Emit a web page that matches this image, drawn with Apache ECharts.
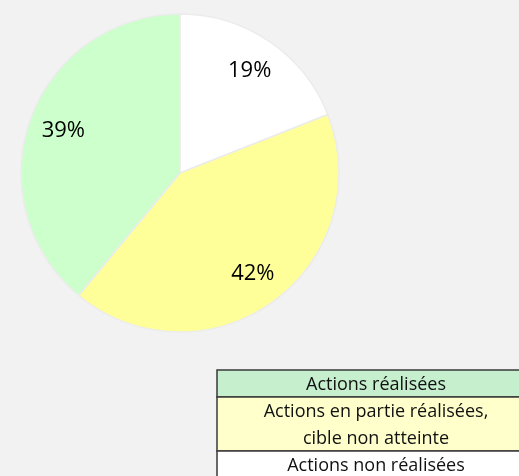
<!DOCTYPE html>
<html lang="fr">
<head>
    <meta charset="UTF-8">
    <title>Actions</title>
    <script src="https://cdn.jsdelivr.net/npm/echarts@6/dist/echarts.min.js"></script>
    <style>
        html, body { margin: 0; padding: 0; background: #f2f2f2; }
        #main { width: 519px; height: 476px; }
    </style>
</head>
<body>
    <div id="main"></div>
    <script>
        // slices, clockwise from the top
        var categories = ['Actions non réalisées', 'Actions en partie réalisées, cible non atteinte', 'Actions réalisées'];
        var values = [19, 42, 39];
        var sliceColors = ['#ffffff', '#ffff99', '#ccffcc'];

        // legend table rows (top to bottom)
        var legendLines = [['Actions réalisées'], ['Actions en partie réalisées,', 'cible non atteinte'], ['Actions non réalisées']];
        var legendColors = ['#c6efce', '#ffffcc', '#ffffff'];

        var font = "'Open Sans', sans-serif";
        var chart = echarts.init(document.getElementById('main'));

        var pieData = [];
        for (var i = 0; i < values.length; i++) {
            pieData.push({ name: categories[i], value: values[i], itemStyle: { color: sliceColors[i] } });
        }

        // legend table built with graphic elements
        var graphics = [];
        var tx = 217, tw = 320, y = 370, lineH = 27;
        for (var r = 0; r < legendLines.length; r++) {
            var h = lineH * legendLines[r].length;
            graphics.push({
                type: 'rect', shape: { x: tx, y: y, width: tw, height: h },
                style: { fill: legendColors[r], stroke: '#3a3a3a', lineWidth: 1.5 }
            });
            for (var k = 0; k < legendLines[r].length; k++) {
                graphics.push({
                    type: 'text', x: tx + tw / 2 - 1, y: y + lineH * k + lineH / 2 + 1,
                    style: { text: legendLines[r][k], fill: '#111', font: '18px ' + font, align: 'center', verticalAlign: 'middle' }
                });
            }
            y += h;
        }

        var option = {
            backgroundColor: '#f2f2f2',
            animation: false,
            series: [{
                type: 'pie',
                center: [180, 173],
                radius: [0, 159],
                startAngle: 90,
                clockwise: true,
                silent: true,
                label: { show: false },
                labelLine: { show: false },
                itemStyle: { borderColor: '#ececec', borderWidth: 1.5 },
                data: pieData
            }, {
                // transparent ring only to put percent labels further out
                type: 'pie',
                center: [180, 173],
                radius: [100, 142],
                startAngle: 90,
                clockwise: true,
                silent: true,
                itemStyle: { color: 'rgba(0,0,0,0)' },
                label: {
                    show: true, position: 'inside', formatter: '{d}%',
                    color: '#000', fontSize: 22, fontFamily: font
                },
                labelLine: { show: false },
                data: values.map(function (v, i) { return { name: categories[i], value: v }; })
            }],
            graphic: graphics
        };
        chart.setOption(option);
    </script>
</body>
</html>
